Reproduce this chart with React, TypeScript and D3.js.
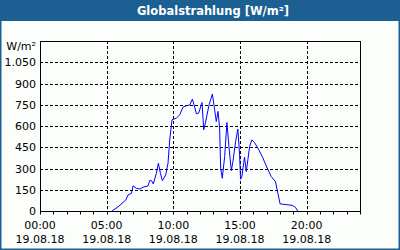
import React from 'react';
import * as d3 from 'd3';

// hours since 00:00 and global radiation in W/m²
const hours = [5.4, 5.86, 6.44, 6.6, 6.86, 6.98, 7.23, 7.49, 7.73, 8.1, 8.23, 8.36, 8.5, 8.73, 8.88, 9.03, 9.18, 9.43, 9.6, 9.73, 9.9, 10.23, 10.48, 10.73, 10.98, 11.23, 11.43, 11.55, 11.73, 11.9, 12.15, 12.28, 12.4, 12.68, 12.93, 13.1, 13.22, 13.35, 13.47, 13.55, 13.67, 13.85, 14.02, 14.17, 14.35, 14.47, 14.67, 14.84, 14.97, 15.04, 15.14, 15.34, 15.47, 15.59, 15.72, 15.89, 16.09, 16.34, 16.67, 16.97, 17.34, 17.66, 17.84, 18.01, 18.46, 18.91, 19.16, 19.33];
const values = [0, 30, 78, 113, 125, 177, 160, 155, 168, 177, 215, 214, 191, 267, 337, 267, 214, 255, 337, 502, 644, 656, 679, 734, 743, 748, 790, 750, 686, 691, 766, 573, 620, 750, 826, 714, 632, 703, 585, 302, 231, 384, 625, 455, 285, 349, 490, 578, 396, 224, 243, 380, 278, 361, 455, 502, 483, 444, 384, 318, 243, 207, 125, 50, 45, 40, 26, 0];

const yTicks = [0, 150, 300, 450, 600, 750, 900, 1050];
const xLabelHours = [0, 5, 10, 15, 20];
const xLabels = ['00:00', '05:00', '10:00', '15:00', '20:00'];
const dateLabel = '19.08.18';
const title = 'Globalstrahlung [W/m²]';
const unit = 'W/m²';

const W = 400;
const H = 250;
const plot = { left: 40, right: 360, top: 41, bottom: 211 };

export default function App() {
  const x = d3.scaleLinear().domain([0, 24]).range([plot.left, plot.right]);
  const y = d3.scaleLinear().domain([0, 1200]).range([plot.bottom, plot.top]);

  const line = d3.line<number>()
    .x((d, i) => x(hours[i]))
    .y(d => y(d));

  const hourTicks = d3.range(0, 25);
  const font = 'Verdana, "DejaVu Sans", sans-serif';

  return (
    <svg
      width={W}
      height={H}
      style={{ position: 'fixed', left: 0, top: 0, display: 'block' }}
      fontFamily={font}
    >
      <rect x={0} y={0} width={W} height={H} fill="#fcfefc" />
      <rect x={0.75} y={0.75} width={W - 1.5} height={H - 1.5} fill="none" stroke="#1b5f93" strokeWidth={1.5} />
      <rect x={0} y={0} width={W} height={21} fill="#1b5f93" />
      <text x={213} y={15} textAnchor="middle" fill="#ffffff" fontSize={11.5} fontWeight="bold">
        {title}
      </text>

      {/* grid */}
      {yTicks.filter(v => v > 0).map(v => (
        <line key={'gy' + v} x1={plot.left} x2={plot.right} y1={Math.round(y(v)) + 0.5} y2={Math.round(y(v)) + 0.5}
          stroke="#000" strokeDasharray="3,2" />
      ))}
      {xLabelHours.filter(h => h > 0).map(h => (
        <line key={'gx' + h} x1={Math.round(x(h)) + 0.5} x2={Math.round(x(h)) + 0.5} y1={plot.top} y2={plot.bottom}
          stroke="#000" strokeDasharray="3,2" />
      ))}

      {/* frame */}
      <rect x={plot.left + 0.5} y={plot.top + 0.5} width={plot.right - plot.left} height={plot.bottom - plot.top}
        fill="none" stroke="#000" />

      {/* hourly ticks */}
      {hourTicks.map(h => (
        <line key={'t' + h} x1={Math.round(x(h)) + 0.5} x2={Math.round(x(h)) + 0.5} y1={plot.bottom} y2={plot.bottom + 3.5}
          stroke="#000" />
      ))}

      {/* y labels */}
      <text x={36} y={50} textAnchor="end" fontSize={11} fill="#000">{unit}</text>
      {yTicks.map(v => (
        <text key={'yl' + v} x={36} y={y(v) + 4} textAnchor="end" fontSize={11} fill="#000">
          {d3.format(',')(v).replace(',', '.')}
        </text>
      ))}

      {/* x labels */}
      {xLabelHours.map((h, i) => (
        <g key={'xl' + h}>
          <text x={x(h)} y={229} textAnchor="middle" fontSize={11} fill="#000">{xLabels[i]}</text>
          <text x={x(h)} y={243} textAnchor="middle" fontSize={11} fill="#000">{dateLabel}</text>
        </g>
      ))}

      <path d={line(values) || ''} fill="none" stroke="#0000ff" strokeWidth={1} />
    </svg>
  );
}
